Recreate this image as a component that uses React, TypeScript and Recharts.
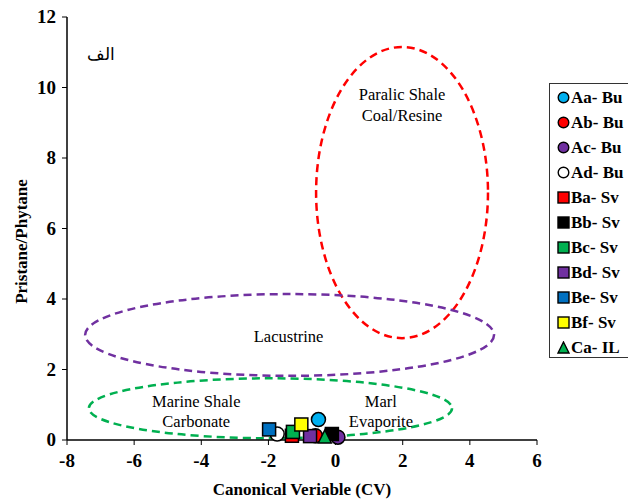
import React from 'react';
import {
  ScatterChart,
  Scatter,
  XAxis,
  YAxis,
  ReferenceArea,
  ReferenceDot,
} from 'recharts';

// sample groups: name, shape, fill, x, y
const sampleNames = ['Aa- Bu', 'Ab- Bu', 'Ac- Bu', 'Ad- Bu', 'Ba- Sv', 'Bb- Sv', 'Bc- Sv', 'Bd- Sv', 'Be- Sv', 'Bf- Sv', 'Ca- IL'];
const sampleShapes = ['circle', 'circle', 'circle', 'circle', 'square', 'square', 'square', 'square', 'square', 'square', 'triangle'];
const sampleColors = ['#00B0F0', '#FF0000', '#7030A0', '#FFFFFF', '#FF0000', '#000000', '#00B050', '#7030A0', '#0070C0', '#FFFF00', '#00B050'];
const sampleX = [-0.51, -0.6, 0.07, -1.74, -1.3, -0.11, -1.27, -0.76, -1.98, -1.02, -0.32];
const sampleY = [0.58, 0.12, 0.08, 0.17, 0.12, 0.17, 0.23, 0.11, 0.3, 0.44, 0.1];
// draw order (back to front)
const drawOrder = [2, 3, 1, 4, 5, 7, 6, 8, 10, 9, 0];

// facies ellipses: centre and radii in data units
const ellipseNames = ['paralic', 'lacustrine', 'marine'];
const ellipseCx = [1.98, -1.37, -1.94];
const ellipseCy = [7.02, 2.98, 0.9];
const ellipseRx = [2.56, 6.09, 5.41];
const ellipseRy = [4.13, 1.16, 0.85];
const ellipseColors = ['#FF0000', '#7030A0', '#00B050'];

const xTicks = [-8, -6, -4, -2, 0, 2, 4, 6];
const yTicks = [0, 2, 4, 6, 8, 10, 12];

// text labels (data coords)
const labelLines = [
  { x: 1.98, y: 9.8, text: 'Paralic Shale' },
  { x: 1.98, y: 9.2, text: 'Coal/Resine' },
  { x: -1.4, y: 2.95, text: 'Lacustrine' },
  { x: -4.15, y: 1.1, text: 'Marine Shale' },
  { x: -4.15, y: 0.53, text: 'Carbonate' },
  { x: 1.35, y: 1.1, text: 'Marl' },
  { x: 1.35, y: 0.53, text: 'Evaporite' },
];

const SERIF = '"Liberation Serif", "Times New Roman", serif';
const M = 13;

function Marker({ cx, cy, shape, fill }: { cx: number; cy: number; shape: string; fill: string }) {
  if (shape === 'circle') {
    return <circle cx={cx} cy={cy} r={M / 2 + 0.5} fill={fill} stroke="#000" strokeWidth={1.5} />;
  }
  if (shape === 'triangle') {
    const h = M;
    return (
      <polygon
        points={`${cx},${cy - h / 2} ${cx + h / 2},${cy + h / 2} ${cx - h / 2},${cy + h / 2}`}
        fill={fill}
        stroke="#000"
        strokeWidth={1.5}
      />
    );
  }
  return <rect x={cx - M / 2} y={cy - M / 2} width={M} height={M} fill={fill} stroke="#000" strokeWidth={1.5} />;
}

function LegendIcon({ shape, fill }: { shape: string; fill: string }) {
  return (
    <svg width={13} height={13} style={{ display: 'block' }}>
      {shape === 'circle' && <circle cx={6.5} cy={6.5} r={5.3} fill={fill} stroke="#000" strokeWidth={1.4} />}
      {shape === 'square' && <rect x={1} y={1} width={11} height={11} fill={fill} stroke="#000" strokeWidth={1.4} />}
      {shape === 'triangle' && <polygon points="6.5,1 12,12 1,12" fill={fill} stroke="#000" strokeWidth={1.4} />}
    </svg>
  );
}

const XTick = (p: any) => (
  <text x={p.x} y={p.y + 20} textAnchor="middle" fontSize={19} fontWeight={700} fill="#000" fontFamily={SERIF}>
    {p.payload.value}
  </text>
);

const YTick = (p: any) => (
  <text x={p.x - 4} y={p.y + 6} textAnchor="end" fontSize={19} fontWeight={700} fill="#000" fontFamily={SERIF}>
    {p.payload.value}
  </text>
);

const YLabel = (p: any) => {
  const vb = p.viewBox || { x: 0, y: 17, width: 67, height: 423 };
  const x = vb.x + 21;
  const y = vb.y + vb.height / 2 + 13;
  return (
    <text x={x} y={y} transform={`rotate(-90 ${x} ${y})`} textAnchor="middle" dominantBaseline="central" fontSize={17} fontWeight={700} fill="#000" fontFamily={SERIF}>
      Pristane/Phytane
    </text>
  );
};

const textShape = (text: string, size: number) => (p: any) => (
  <text x={p.cx} y={p.cy} textAnchor="middle" dominantBaseline="central" fontSize={size} fill="#000" fontFamily={SERIF}>
    {text}
  </text>
);

export default function App() {
  return (
    <div style={{ position: 'absolute', left: 0, top: 0, width: 628, height: 499, background: '#fff', fontFamily: SERIF }}>
      <ScatterChart width={628} height={499} margin={{ top: 17, right: 91, bottom: 0, left: 0 }}>
        <XAxis
          type="number"
          dataKey="x"
          domain={[-8, 6]}
          ticks={xTicks}
          height={59}
          axisLine={{ stroke: '#000', strokeWidth: 1.5 }}
          tickLine={{ stroke: '#000' }}
          tickSize={5}
          tick={XTick}
          label={{ value: 'Canonical Veriable (CV)', position: 'insideBottom', offset: 4, style: { fontSize: 17, fontWeight: 700, fill: '#000', fontFamily: SERIF } }}
        />
        <YAxis
          type="number"
          dataKey="y"
          domain={[0, 12]}
          ticks={yTicks}
          width={67}
          axisLine={{ stroke: '#000', strokeWidth: 1.5 }}
          tickLine={{ stroke: '#000' }}
          tickSize={5}
          tick={YTick}
          label={<YLabel />}
        />
        {ellipseNames.map((n, i) => (
          <ReferenceArea
            key={n}
            x1={ellipseCx[i] - ellipseRx[i]}
            x2={ellipseCx[i] + ellipseRx[i]}
            y1={ellipseCy[i] - ellipseRy[i]}
            y2={ellipseCy[i] + ellipseRy[i]}
            ifOverflow="visible"
            shape={(p: any) => (
              <ellipse
                cx={p.x + p.width / 2}
                cy={p.y + p.height / 2}
                rx={Math.abs(p.width) / 2}
                ry={Math.abs(p.height) / 2}
                fill="none"
                stroke={ellipseColors[i]}
                strokeWidth={2.5}
                strokeDasharray="8 5"
              />
            )}
          />
        ))}
        {labelLines.map((l) => (
          <ReferenceDot key={l.text} x={l.x} y={l.y} ifOverflow="visible" shape={textShape(l.text, 16.5)} />
        ))}
        <ReferenceDot x={-7} y={10.95} ifOverflow="visible" shape={textShape('الف', 17)} />
        {drawOrder.map((i) => (
          <Scatter
            key={sampleNames[i]}
            name={sampleNames[i]}
            data={[{ x: sampleX[i], y: sampleY[i] }]}
            isAnimationActive={false}
            shape={(p: any) => <Marker cx={p.cx} cy={p.cy} shape={sampleShapes[i]} fill={sampleColors[i]} />}
          />
        ))}
      </ScatterChart>
      <div
        style={{
          position: 'absolute',
          left: 549,
          top: 83,
          width: 90,
          height: 275,
          border: '1.5px solid #333',
          boxSizing: 'border-box',
          paddingTop: 1,
        }}
      >
        {sampleNames.map((n, i) => (
          <div key={n} style={{ display: 'flex', alignItems: 'center', height: 25, paddingLeft: 7 }}>
            <LegendIcon shape={sampleShapes[i]} fill={sampleColors[i]} />
            <span style={{ marginLeft: 1, fontSize: 17, fontWeight: 700, whiteSpace: 'pre' }}>{n}</span>
          </div>
        ))}
      </div>
    </div>
  );
}
